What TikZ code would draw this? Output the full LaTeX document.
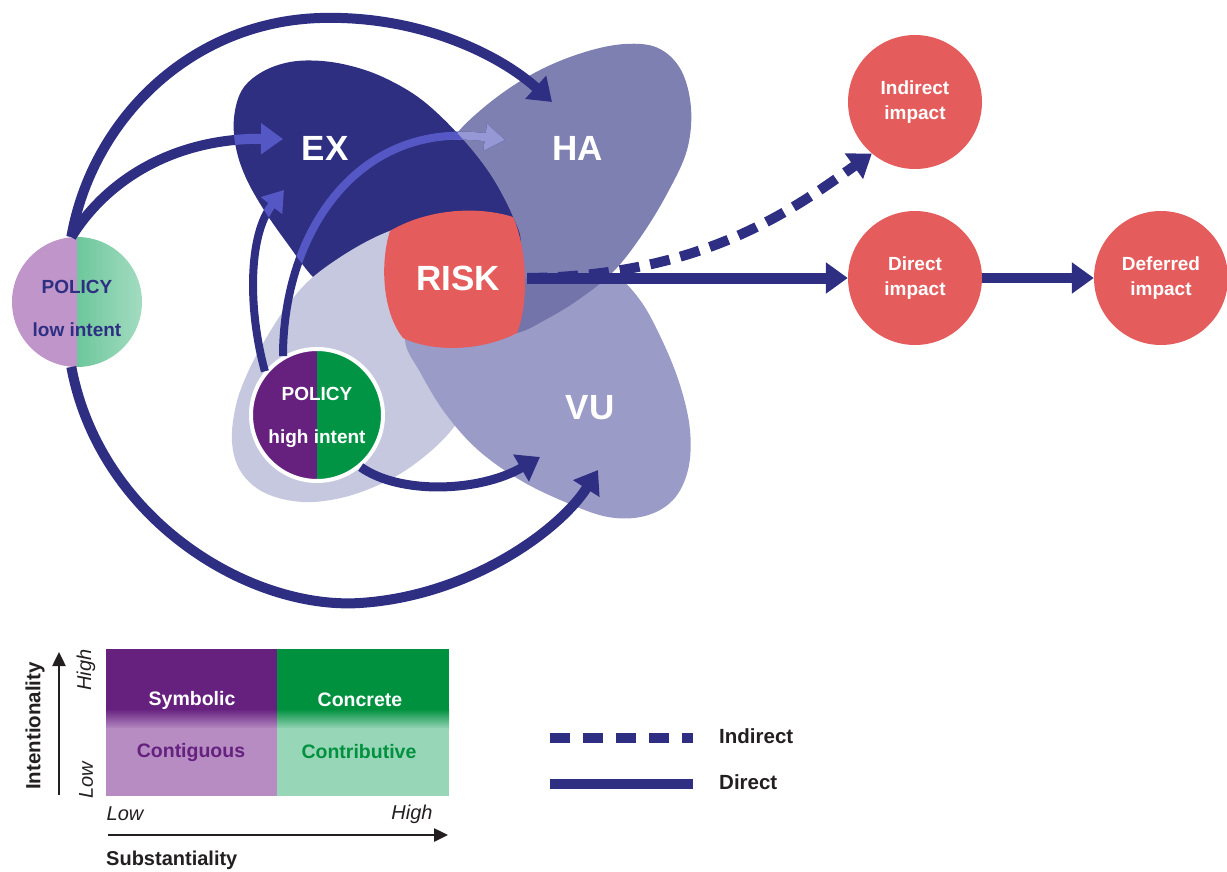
\documentclass[tikz,border=0pt]{standalone}
\usepackage{fontspec}
\setmainfont{Liberation Sans}
\usetikzlibrary{arrows.meta}
\definecolor{navy}{HTML}{2E2F83}
\definecolor{exc}{HTML}{2E2F80}
\definecolor{hac}{HTML}{7F80B2}
\definecolor{vuc}{HTML}{9A9BC6}
\definecolor{lic}{HTML}{C6C8E0}
\definecolor{ovc}{HTML}{7374A9}
\definecolor{riskred}{HTML}{E55C5D}
\definecolor{inex}{HTML}{5557C4}
\definecolor{inha}{HTML}{9698D6}
\definecolor{lpurple}{HTML}{C095C9}
\definecolor{lgreen}{HTML}{6DC79C}
\definecolor{lgreenb}{HTML}{A3DCC1}
\definecolor{dpurple}{HTML}{66217F}
\definecolor{dgreen}{HTML}{009444}
\definecolor{legpurple}{HTML}{B68CC3}
\definecolor{leggreen}{HTML}{98D6B8}
\definecolor{legdgreen}{HTML}{00913F}
\definecolor{legblack}{HTML}{231F20}
\def\EXpath{plot[smooth cycle, tension=0.6] coordinates {(234,118) (242,90) (262,72) (290,62) (322,61) (355,67) (387,79) (422,100) (458,134) (490,174) (513,217) (520,245) (500,275) (450,292) (385,300) (335,292) (313,277) (287,243) (264,210) (246,178) (236,148)}}
\def\HApath{plot[smooth cycle, tension=0.6] coordinates {(458,132) (497,97) (540,70) (585,52) (625,44) (658,48) (681,70) (691,108) (687,150) (668,192) (642,235) (613,272) (578,300) (545,320) (517,333) (480,336) (445,310) (430,260) (435,200) (445,160)}}
\def\VUpath{plot[smooth cycle, tension=0.6] coordinates {(415,300) (440,284) (490,279) (540,278) (585,277) (613,274) (640,300) (662,340) (680,385) (690,430) (688,470) (673,500) (645,516) (608,517) (565,502) (520,480) (478,450) (445,413) (420,372) (405,340)}}
\def\LIpath{plot[smooth cycle, tension=0.6] coordinates {(313,277) (355,248) (395,229) (440,218) (485,235) (505,290) (495,340) (470,400) (450,432) (420,460) (387,481) (345,497) (303,502) (265,493) (241,472) (232,442) (236,405) (248,372) (265,340) (287,306)}}
\newcommand\underarcs[1]{%
  \draw[arr, draw=#1] (lowpol.95) .. controls (110,175) and (180,138) .. (exTipA);
  \draw[thinarr, draw=#1] (highpol.140) .. controls (248,310) and (248,235) .. (exTipB);
  \draw[thinarr, draw=#1] (highpol.120) .. controls (283,230) and (360,120) .. (haTipB);
}
\begin{document}
\begin{tikzpicture}[x=1pt,y=-1pt,
  arr/.style={draw=navy, line width=10pt, -{Triangle[length=22pt,width=30pt]}},
  thinarr/.style={draw=navy, line width=8pt, -{Triangle[length=20pt,width=26pt]}},
  biglbl/.style={text=white, font=\bfseries\fontsize{35}{40}\selectfont, inner sep=0pt},
  impact/.style={circle, fill=riskred, minimum size=134pt, inner sep=0pt, text=white, align=center, font=\bfseries\fontsize{19}{25}\selectfont},
  poltxt/.style={align=center, font=\bfseries\fontsize{19}{43}\selectfont, inner sep=0pt},
  legtxt/.style={font=\bfseries\fontsize{19.5}{22}\selectfont, inner sep=0pt},
  axtxt/.style={font=\itshape\fontsize{20}{22}\selectfont, inner sep=0pt, text=legblack},
  legline/.style={draw=navy, line width=10pt},
  blackarr/.style={draw=legblack, line width=2.5pt, -{Triangle[length=14pt,width=13pt]}}]
\useasboundingbox (0,0) rectangle (1227,872);

% ---- overlapping regions
\fill[hac] \HApath;
\fill[exc] \EXpath;
\fill[lic] \LIpath;
\fill[vuc] \VUpath;
\begin{scope}
  \clip \HApath;
  \fill[ovc] \VUpath;
\end{scope}
\fill[riskred] (390,231) .. controls (425,210) and (475,205) .. (513,217)
  .. controls (526,245) and (530,300) .. (517,333)
  .. controls (480,352) and (432,352) .. (403,338)
  .. controls (382,312) and (380,262) .. cycle;

\node[biglbl] (ex) at (325,148) {EX};
\node[biglbl] (ha) at (578,148) {HA};
\node[biglbl] (vu) at (590,408) {VU};
\node[biglbl, circle, minimum size=138pt] (risk) at (458,278) {RISK};

% ---- policy circles
\node[circle, minimum size=130pt, inner sep=0pt,
  path picture={\fill[lpurple] (path picture bounding box.south west) rectangle (path picture bounding box.north);
    \shade[left color=lgreen, middle color=lgreen, right color=lgreenb] (path picture bounding box.south) rectangle (path picture bounding box.north east);},
  label={[poltxt, text=navy, yshift=-6pt]center:{POLICY\\low intent}}]
  (lowpol) at (77,302) {};
\node[circle, minimum size=132pt, inner sep=0pt, draw=white, line width=4pt,
  path picture={\fill[dpurple] (path picture bounding box.south west) rectangle (path picture bounding box.north);
    \fill[dgreen] (path picture bounding box.south) rectangle (path picture bounding box.north east);},
  label={[poltxt, text=white, yshift=-2pt]center:{POLICY\\high intent}}]
  (highpol) at (317,415) {};

% ---- impact circles
\node[impact] (indirect) at (915,102) {Indirect\\impact};
\node[impact] (direct) at (915,278) {Direct\\impact};
\node[impact] (deferred) at (1161,278) {Deferred\\impact};

% ---- arrow end points
\coordinate (haTipA) at (552,102);
\coordinate (exTipA) at (283,139);
\coordinate (exTipB) at (284,190);
\coordinate (haTipB) at (505,140);
\coordinate (vuTipA) at (598,470);
\coordinate (vuTipB) at (540,457);

% ---- arrows running beneath EX and HA
\underarcs{navy}
\begin{scope}
  \clip \HApath;
  \underarcs{inha}
\end{scope}
\begin{scope}
  \clip \EXpath;
  \underarcs{inex}
\end{scope}

% ---- other arrows
\draw[arr] (lowpol.95) .. controls (92,120) and (190,22) .. (320,18) .. controls (420,15) and (500,55) .. (haTipA);
\draw[arr] (lowpol.265) .. controls (100,520) and (250,610) .. (360,603) .. controls (470,596) and (560,530) .. (vuTipA);
\draw[arr, line width=9pt] (highpol.-50) .. controls (400,495) and (480,492) .. (vuTipB);
\draw[arr, dash pattern=on 20pt off 11pt] (risk.east) .. controls (700,276) and (790,212) .. (indirect.230);
\draw[arr, line width=11pt] (risk.east) -- (direct.west);
\draw[arr] (direct.east) -- (deferred.west);

% ---- typology legend
\fill[dpurple] (106,649) rectangle (277,710);
\shade[top color=dpurple, bottom color=legpurple] (106,709) rectangle (277,729);
\fill[legpurple] (106,728) rectangle (277,796);
\fill[legdgreen] (277,649) rectangle (449,710);
\shade[top color=legdgreen, bottom color=leggreen] (277,709) rectangle (449,729);
\fill[leggreen] (277,728) rectangle (449,796);
\node[legtxt, text=white] (symb) at (192,700) {Symbolic};
\node[legtxt, text=white] (conc) at (360,700) {Concrete};
\node[legtxt, text=dpurple] (contig) at (191,752) {Contiguous};
\node[legtxt, text=legdgreen] (contr) at (359,752) {Contributive};

\coordinate (vstart) at (59,795);
\coordinate (vend) at (59,652);
\draw[blackarr] (vstart) -- (vend);
\node[legtxt, text=legblack, rotate=90, font=\bfseries\fontsize{20.5}{22}\selectfont] (intent) at (35,726) {Intentionality};
\node[axtxt, rotate=90] (yhigh) at (86,670) {High};
\node[axtxt, rotate=90] (ylow) at (86,780) {Low};

\coordinate (hstart) at (108,835);
\coordinate (hend) at (448,835);
\draw[blackarr] (hstart) -- (hend);
\node[axtxt] (xlow) at (125,814) {Low};
\node[axtxt] (xhigh) at (412,814) {High};
\node[legtxt, text=legblack, anchor=west, font=\bfseries\fontsize{20}{22}\selectfont] (subst) at (106,860) {Substantiality};

% ---- line legend
\coordinate (dashA) at (550,738);
\coordinate (dashB) at (693,738);
\draw[legline, dash pattern=on 20pt off 13pt] (dashA) -- (dashB);
\coordinate (solidA) at (550,784);
\coordinate (solidB) at (693,784);
\draw[legline] (solidA) -- (solidB);
\node[legtxt, text=legblack, anchor=west, font=\bfseries\fontsize{20.5}{22}\selectfont] (lindirect) at (719,736) {Indirect};
\node[legtxt, text=legblack, anchor=west, font=\bfseries\fontsize{20.5}{22}\selectfont] (ldirect) at (719,782) {Direct};
\end{tikzpicture}
\end{document}
